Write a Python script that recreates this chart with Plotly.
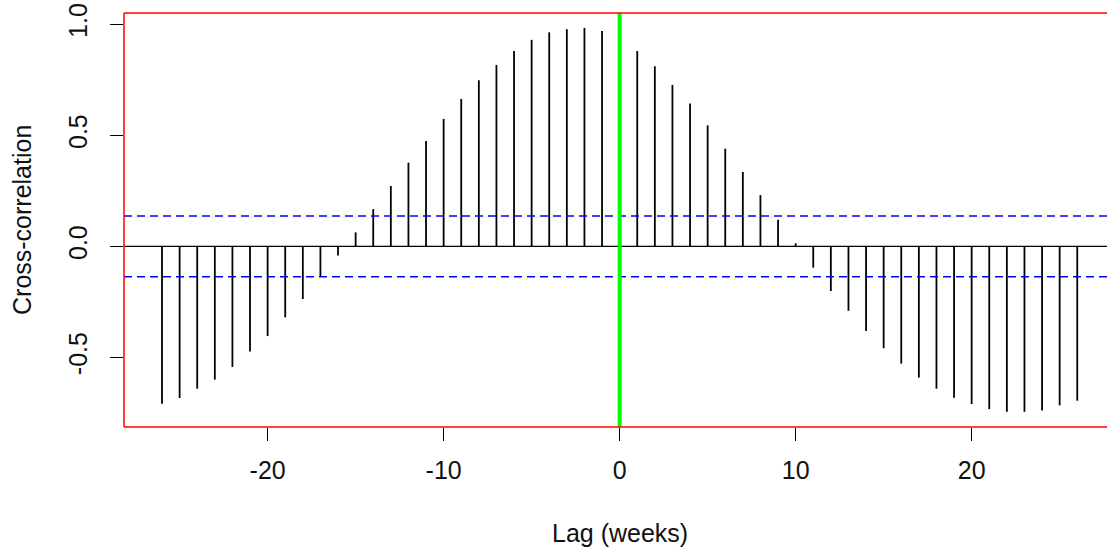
import plotly.graph_objects as go

lags = list(range(-26, 27))
ccf = [-0.709, -0.683, -0.641, -0.600, -0.543, -0.474, -0.404, -0.320, -0.237, -0.138,
       -0.041, 0.063, 0.168, 0.272, 0.377, 0.475, 0.574, 0.664, 0.748, 0.817,
       0.880, 0.930, 0.964, 0.978, 0.984, 0.970, 0.930, 0.880, 0.811, 0.727,
       0.643, 0.545, 0.440, 0.335, 0.231, 0.120, 0.014, -0.096, -0.201, -0.290,
       -0.381, -0.459, -0.528, -0.591, -0.641, -0.682, -0.710, -0.733, -0.745, -0.745,
       -0.739, -0.716, -0.695]
conf_limit = 0.137
x_ticks = [-20, -10, 0, 10, 20]
y_ticks = [-0.5, 0.0, 0.5, 1.0]
x_title = "Lag (weeks)"
y_title = "Cross-correlation"

xs, ys = [], []
for k, v in zip(lags, ccf):
    xs += [k, k, None]
    ys += [0, v, None]

FONT = "Liberation Sans, Arial, sans-serif"
FS = 25
TXT = "#111111"

fig = go.Figure()
fig.add_trace(go.Scatter(x=xs, y=ys, mode="lines",
                         line=dict(color="#000000", width=1.8),
                         hoverinfo="skip", showlegend=False))

shapes = [
    dict(type="line", xref="paper", yref="y", x0=0, x1=1, y0=0, y1=0,
         line=dict(color="black", width=1.4), layer="above"),
    dict(type="line", xref="paper", yref="y", x0=0, x1=1, y0=conf_limit, y1=conf_limit,
         line=dict(color="blue", width=1.5, dash="8px,5px")),
    dict(type="line", xref="paper", yref="y", x0=0, x1=1, y0=-conf_limit, y1=-conf_limit,
         line=dict(color="blue", width=1.5, dash="8px,5px")),
    dict(type="line", xref="x", yref="paper", x0=0, x1=0, y0=0, y1=1,
         line=dict(color="#00ff00", width=4), layer="above"),
    dict(type="line", xref="paper", yref="paper", x0=0, x1=0, y0=0, y1=1,
         line=dict(color="red", width=1.5), layer="above"),
    dict(type="line", xref="paper", yref="paper", x0=0, x1=1, y0=1, y1=1,
         line=dict(color="red", width=1.5), layer="above"),
    dict(type="line", xref="paper", yref="paper", x0=0, x1=1, y0=0, y1=0,
         line=dict(color="red", width=1.5), layer="above"),
]

fig.update_layout(
    width=1107, height=550,
    margin=dict(l=124, r=0, t=13, b=123),
    plot_bgcolor="white", paper_bgcolor="white",
    font=dict(family=FONT, size=FS, color=TXT),
    shapes=shapes,
    showlegend=False,
    annotations=[
        dict(text=x_title, xref="x", yref="paper", x=0, y=0, yshift=-106,
             showarrow=False, xanchor="center", yanchor="middle",
             font=dict(family=FONT, size=FS, color=TXT)),
        dict(text=y_title, xref="paper", yref="paper", x=0, y=0.5, xshift=-102,
             textangle=-90, showarrow=False, xanchor="center", yanchor="middle",
             font=dict(family=FONT, size=FS, color=TXT)),
    ],
)

fig.update_xaxes(range=[-28.16, 27.69], tickmode="array", tickvals=x_ticks,
                 ticktext=[str(t) for t in x_ticks],
                 ticks="outside", ticklen=13, tickwidth=1.2, tickcolor="black",
                 showgrid=False, zeroline=False, showline=False,
                 ticklabelstandoff=8)
fig.update_yaxes(range=[-0.8135, 1.051], tickmode="array", tickvals=y_ticks,
                 ticktext=[f"{t:.1f}" for t in y_ticks],
                 ticks="outside", ticklen=13, tickwidth=1.2, tickcolor="black",
                 tickangle=-90,
                 showgrid=False, zeroline=False, showline=False,
                 ticklabelstandoff=13)

fig.write_html("out.html",
               config={"displayModeBar": False},
               post_script="document.body.style.margin='0';document.body.style.overflow='hidden';")
